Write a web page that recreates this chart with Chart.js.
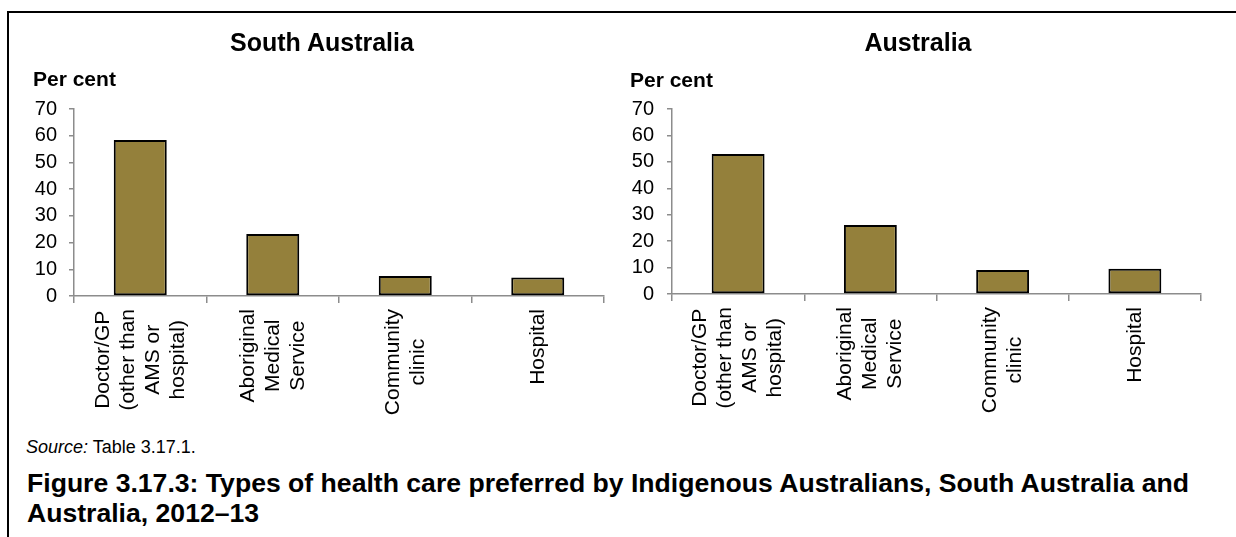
<!DOCTYPE html>
<html>
<head>
<meta charset="utf-8">
<script src="https://cdn.jsdelivr.net/npm/chart.js@4/dist/chart.umd.min.js"></script>
<style>
  body { margin: 0; background: #fff; }
  #page { position: relative; width: 1236px; height: 537px; overflow: hidden; background: #fff;
          font-family: "Liberation Sans", Arial, sans-serif; color: #000; }
  #frame { position: absolute; left: 7px; top: 11px; width: 1300px; height: 600px;
           border-left: 2px solid #000; border-top: 2px solid #000; }
  canvas { position: absolute; }
  .title { position: absolute; top: 27px; width: 400px; margin-left: -200px; text-align: center;
           font-size: 25px; font-weight: bold; line-height: 30px; }
  .unit { position: absolute; font-size: 21px; font-weight: bold; line-height: 24px; }
  #source { position: absolute; left: 26px; top: 436px; font-size: 18px; line-height: 22px; }
  #caption { position: absolute; left: 27px; top: 468px; font-size: 26.6px; font-weight: bold; line-height: 30px; white-space: nowrap; }
</style>
</head>
<body>
<div id="page">
  <div id="frame"></div>
  <canvas id="saChart" width="620" height="406" style="left:10px; top:20px;"></canvas>
  <canvas id="ausChart" width="580" height="404" style="left:626px; top:20px;"></canvas>
  <div class="title" style="left:322px;">South Australia</div>
  <div class="title" style="left:918px;">Australia</div>
  <div class="unit" style="left:33px; top:67px;">Per cent</div>
  <div class="unit" style="left:630px; top:68px;">Per cent</div>
  <div id="source"><i>Source:</i> Table 3.17.1.</div>
  <div id="caption">Figure 3.17.3: Types of health care preferred by Indigenous Australians, South Australia and<br>Australia, 2012–13</div>
</div>
<script>
// data
const categories = [
  ["Doctor/GP", "(other than", "AMS or", "hospital)"],
  ["Aboriginal", "Medical", "Service"],
  ["Community", "clinic"],
  ["Hospital"]
];
const southAustralia = [58.4, 23.2, 7.5, 6.9];
const australia = [53.0, 26.1, 9.1, 9.6];
const yTickValues = [0, 10, 20, 30, 40, 50, 60, 70];

const FONT = '"Liberation Sans", Arial, sans-serif';
const BAR = '#94803b';
const AXIS = '#8c8c8c';

// rotated, centred multi-line category labels (Excel style)
const xLabelPlugin = {
  id: 'xLabels',
  afterDraw(chart, args, opts) {
    const ctx = chart.ctx;
    const xScale = chart.scales.x;
    ctx.save();
    ctx.font = opts.size + 'px ' + FONT;
    ctx.fillStyle = '#000';
    ctx.textAlign = 'center';
    ctx.textBaseline = 'middle';
    chart.data.labels.forEach((lines, i) => {
      const px = xScale.getPixelForValue(i);
      const w = Math.max(...lines.map(l => ctx.measureText(l).width));
      const cy = chart.chartArea.bottom + opts.gap + w / 2;
      lines.forEach((line, j) => {
        const cx = px + (j - (lines.length - 1) / 2) * opts.lineHeight;
        ctx.save();
        ctx.translate(cx, cy);
        ctx.rotate(-Math.PI / 2);
        ctx.fillText(line, 0, 0);
        ctx.restore();
      });
    });
    ctx.restore();
  }
};

function makeChart(id, values, cfg) {
  return new Chart(document.getElementById(id), {
    type: 'bar',
    data: {
      labels: categories,
      datasets: [{
        data: values,
        backgroundColor: BAR,
        borderColor: '#000',
        borderWidth: 2,
        borderSkipped: false,
        barPercentage: 0.4,
        categoryPercentage: 1
      }]
    },
    options: {
      responsive: false,
      animation: false,
      events: [],
      layout: { padding: { left: 0, right: cfg.padRight, top: 89, bottom: 0 } },
      plugins: {
        legend: { display: false },
        tooltip: { enabled: false },
        title: { display: false },
        xLabels: { size: 21, lineHeight: 25, gap: 13 }
      },
      scales: {
        x: {
          grid: { display: true, drawOnChartArea: false, drawTicks: true, tickLength: 7, color: AXIS, lineWidth: 1.5, offset: true },
          border: { color: AXIS, width: 1.5 },
          ticks: { display: false },
          afterFit: s => { s.height = 130; }
        },
        y: {
          min: 0,
          max: 70,
          afterBuildTicks: s => { s.ticks = yTickValues.map(v => ({ value: v })); },
          grid: { drawOnChartArea: false, tickLength: 5, color: AXIS, lineWidth: 1.5 },
          border: { color: AXIS, width: 1.5 },
          ticks: { autoSkip: false, font: { family: FONT, size: 20 }, color: '#000', padding: cfg.tickPad },
          afterFit: s => { s.width = cfg.yWidth; }
        }
      }
    },
    plugins: [xLabelPlugin]
  });
}

makeChart('saChart', southAustralia, { padRight: 26, yWidth: 64, tickPad: 12 });
makeChart('ausChart', australia, { padRight: 5, yWidth: 46, tickPad: 13 });
</script>
</body>
</html>
